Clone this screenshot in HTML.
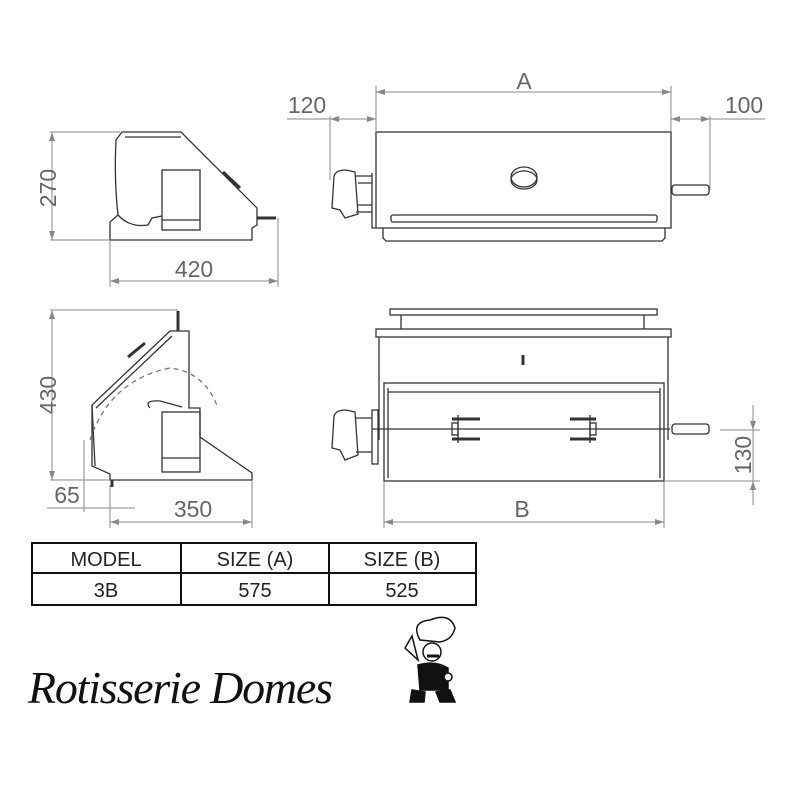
<!DOCTYPE html>
<html><head><meta charset="utf-8"><style>
html,body{margin:0;padding:0;background:#fff;}
svg{display:block;}
.t{font-family:"Liberation Sans",sans-serif;fill:#666;}
</style></head><body>
<svg width="800" height="800" viewBox="0 0 800 800" xmlns="http://www.w3.org/2000/svg">
<g fill="none" stroke="#333" stroke-width="1.3">
<path d="M122 132 L181 132 L257 208 L257 225 L252 228 L252 240 L110 240 L110 222 L118 215 Q114 180 116 140 Z"/>
<path d="M125 137 L181 137"/>
<path d="M118 215 Q130 228 148 225 L152 218 L162 216"/>
<rect x="162" y="170" width="38" height="60"/>
<line x1="162" y1="220" x2="200" y2="220"/>
<path d="M223 172 L240 188" stroke-width="3"/>
<line x1="257" y1="218" x2="276" y2="218" stroke-width="3"/>
<path d="M170 331 L189 331 L189 408 L200 408 L200 437 L252 473 L252 480 L110 480 L110 474 L92 466 L92 405 Z"/>
<path d="M92 405 L95 466" />
<path d="M172 336 L96 408"/>
<line x1="178" y1="311" x2="178" y2="331" stroke-width="3"/>
<rect x="162" y="412" width="38" height="60"/>
<line x1="162" y1="458" x2="200" y2="458"/>
<path d="M150 408 Q143 400 160 401 L182 407"/>
<path d="M128 357 L145 343" stroke-width="3"/>
<path d="M90 440 Q110 380 170 368 Q205 372 218 408" stroke-dasharray="5 4" stroke="#777"/>
<line x1="112" y1="480" x2="112" y2="487" stroke-width="3"/>
<rect x="376" y="132" width="295" height="96"/>
<rect x="391" y="215" width="266" height="7" rx="2"/>
<path d="M383 228 L383 238 L386 241 L662 241 L665 238 L665 228"/>
<ellipse cx="524" cy="177" rx="13" ry="10"/>
<ellipse cx="524" cy="180" rx="13" ry="9"/>
<path d="M372 173 L372 228 L376 228"/>
<path d="M334 176 Q336 170 346 170 L355 172 L358 214 L345 218 L340 210 L332 208 Z"/>
<path d="M356 176 L372 176 M356 212 L372 212 M358 183 L372 183 M358 205 L372 205"/>
<rect x="672" y="185" width="37" height="10" rx="3"/>
<rect x="390" y="309" width="267" height="6"/>
<line x1="401" y1="315" x2="401" y2="329"/><line x1="644" y1="315" x2="644" y2="329"/>
<rect x="376" y="329" width="295" height="8"/>
<line x1="379" y1="337" x2="379" y2="440"/><line x1="668" y1="337" x2="668" y2="440"/>
<rect x="384" y="383" width="280" height="98"/>
<line x1="388" y1="392" x2="660" y2="392"/>
<line x1="388" y1="388" x2="388" y2="478"/><line x1="660" y1="388" x2="660" y2="478"/>
<line x1="372" y1="429" x2="670" y2="429"/>
<rect x="452" y="423" width="6" height="12"/><rect x="590" y="423" width="6" height="12"/>
<path d="M452 419 L480 419 M452 439 L480 439 M570 419 L596 419 M570 439 L596 439" stroke-width="3"/>
<path d="M458 415 L458 443 M590 415 L590 443"/>
<path d="M334 416 Q336 410 346 410 L355 412 L358 455 L345 460 L340 450 L332 448 Z"/>
<path d="M356 418 L372 418 M356 452 L372 452"/>
<rect x="372" y="410" width="6" height="54"/>
<rect x="672" y="424" width="37" height="10" rx="3"/>
<path d="M523 355 L523 365" stroke-width="3"/>
</g>
<g fill="none" stroke="#888" stroke-width="1">
<line x1="50" y1="132" x2="120" y2="132"/><line x1="50" y1="240" x2="110" y2="240"/>
<line x1="52" y1="132" x2="52" y2="240"/>
<line x1="110" y1="240" x2="110" y2="287"/><line x1="278" y1="218" x2="278" y2="287"/>
<line x1="110" y1="281" x2="278" y2="281"/>
<line x1="50" y1="310" x2="178" y2="310"/><line x1="50" y1="480" x2="110" y2="480"/>
<line x1="52" y1="310" x2="52" y2="480"/>
<line x1="84" y1="440" x2="84" y2="512"/>
<line x1="47" y1="508" x2="135" y2="508"/>
<line x1="110" y1="485" x2="110" y2="528"/><line x1="252" y1="480" x2="252" y2="528"/>
<line x1="110" y1="522" x2="252" y2="522"/>
<line x1="376" y1="86" x2="376" y2="132"/><line x1="671" y1="86" x2="671" y2="132"/>
<line x1="376" y1="92" x2="671" y2="92"/>
<line x1="287" y1="119" x2="376" y2="119"/><line x1="330" y1="116" x2="330" y2="180"/>
<line x1="671" y1="119" x2="765" y2="119"/><line x1="710" y1="116" x2="710" y2="190"/>
<line x1="384" y1="481" x2="384" y2="528"/><line x1="664" y1="481" x2="664" y2="528"/>
<line x1="384" y1="522" x2="664" y2="522"/>
<line x1="664" y1="481" x2="760" y2="481"/><line x1="720" y1="430" x2="760" y2="430"/>
<line x1="753" y1="405" x2="753" y2="505"/>
</g>
<g fill="#888">
<path d="M52 132 l-3 9 h6z M52 240 l-3 -9 h6z M52 310 l-3 9 h6z M52 480 l-3 -9 h6z"/>
<path d="M110 281 l9 -3 v6z M278 281 l-9 -3 v6z M110 522 l9 -3 v6z M252 522 l-9 -3 v6z"/>
<path d="M376 92 l9 -3 v6z M671 92 l-9 -3 v6z M384 522 l9 -3 v6z M664 522 l-9 -3 v6z"/>
<path d="M376 119 l-9 -3 v6z M330 119 l9 -3 v6z M671 119 l9 -3 v6z M710 119 l-9 -3 v6z"/>
<path d="M753 430 l-3 -9 h6z M753 481 l-3 9 h6z"/>
</g>
<g class="t" font-size="23">
<text x="48" y="188" transform="rotate(-90 48 188)" text-anchor="middle" dy="8">270</text>
<text x="48" y="395" transform="rotate(-90 48 395)" text-anchor="middle" dy="8">430</text>
<text x="743" y="455" transform="rotate(-90 743 455)" text-anchor="middle" dy="8">130</text>
<text x="194" y="277" text-anchor="middle">420</text>
<text x="193" y="517" text-anchor="middle">350</text>
<text x="67" y="503" text-anchor="middle">65</text>
<text x="307" y="113" text-anchor="middle">120</text>
<text x="744" y="113" text-anchor="middle">100</text>
<text x="524" y="89" text-anchor="middle">A</text>
<text x="522" y="517" text-anchor="middle">B</text>
</g>
<g fill="none" stroke="#111" stroke-width="2">
<rect x="32" y="543" width="444" height="62"/>
<line x1="32" y1="573" x2="476" y2="573"/>
<line x1="181" y1="543" x2="181" y2="605"/><line x1="329" y1="543" x2="329" y2="605"/>
</g>
<g font-family="Liberation Sans,sans-serif" font-size="20" fill="#222" text-anchor="middle">
<text x="106" y="566">MODEL</text><text x="255" y="566">SIZE (A)</text><text x="402" y="566">SIZE (B)</text>
<text x="106" y="597">3B</text><text x="255" y="597">575</text><text x="402" y="597">525</text>
</g>
<text x="28" y="703" font-family="Liberation Serif,serif" font-style="italic" font-size="46" fill="#111" textLength="305">Rotisserie Domes</text>
<g fill="#111" stroke="#111" stroke-width="1.5">
<path d="M420 640 Q410 622 430 620 Q450 612 455 628 Q452 640 440 642 Z" fill="#fff"/>
<circle cx="432" cy="652" r="9" fill="#fff"/>
<path d="M427 656 h12" stroke-width="3"/>
<path d="M405 648 L412 636 L418 660 Z" fill="#fff"/>
<path d="M418 665 Q435 660 448 668 L448 690 L420 690 Z"/>
<path d="M412 690 L425 692 L424 702 L410 702 Z M436 692 L450 690 L455 702 L440 702 Z"/>
<circle cx="448" cy="677" r="4" fill="#fff"/>
</g>
</svg>
</body></html>
